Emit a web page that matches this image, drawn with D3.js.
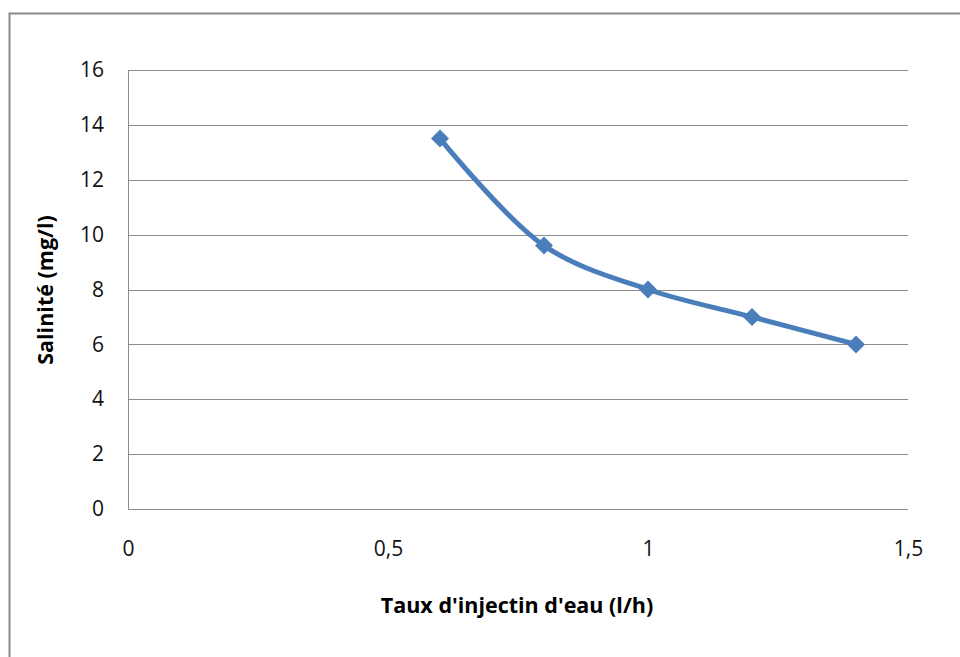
<!DOCTYPE html>
<html>
<head>
<meta charset="utf-8">
<script src="https://cdn.jsdelivr.net/npm/d3@7/dist/d3.min.js"></script>
<style>
  html, body { margin: 0; padding: 0; background: #fff; }
  svg { display: block; }
  .tick text { font-family: "Open Sans", "Noto Sans", sans-serif; font-size: 21px; fill: #111; }
  .title { font-family: "Open Sans", "Noto Sans", sans-serif; font-size: 21.5px; font-weight: bold; fill: #000; }
</style>
</head>
<body>
<svg id="chart" width="960" height="657"></svg>
<script>
// Injection rate (l/h) vs salinity (mg/l)
const injectionRate = [0.6, 0.8, 1.0, 1.2, 1.4];
const salinity = [13.5, 9.6, 8.0, 7.0, 6.0];
const xTicks = [0, 0.5, 1, 1.5];
const yTicks = [0, 2, 4, 6, 8, 10, 12, 14, 16];
const xTitle = "Taux d'injectin d'eau (l/h)";
const yTitle = "Salinité (mg/l)";

const svg = d3.select("#chart");
const fmt = d => String(d).replace(".", ",");

// frame around the chart
svg.append("rect")
  .attr("x", 9.5).attr("y", 13.5)
  .attr("width", 1000).attr("height", 700)
  .attr("fill", "none").attr("stroke", "#898989").attr("stroke-width", 2);

const x = d3.scaleLinear().domain([0, 1.5]).range([128, 908]);
const y = d3.scaleLinear().domain([0, 16]).range([509, 70]);

// horizontal gridlines
svg.append("g").selectAll("line").data(yTicks).join("line")
  .attr("x1", x(0)).attr("x2", x(1.5))
  .attr("y1", d => Math.round(y(d)) + 0.5).attr("y2", d => Math.round(y(d)) + 0.5)
  .attr("stroke", "#8c8c8c").attr("stroke-width", 1);

// vertical axis line
svg.append("line")
  .attr("x1", x(0) + 0.5).attr("x2", x(0) + 0.5)
  .attr("y1", y(16)).attr("y2", y(0))
  .attr("stroke", "#8c8c8c").attr("stroke-width", 1);

// y axis labels
const yAxis = d3.axisLeft(y).tickValues(yTicks).tickSize(0).tickPadding(24).tickFormat(fmt);
svg.append("g").attr("transform", `translate(${x(0)},0)`).call(yAxis)
  .call(g => g.select(".domain").remove());

// x axis labels
const xAxis = d3.axisBottom(x).tickValues(xTicks).tickSize(0).tickPadding(32).tickFormat(fmt);
svg.append("g").attr("transform", `translate(0,${y(0)})`).call(xAxis)
  .call(g => g.select(".domain").remove());

// axis titles
svg.append("text").attr("class", "title")
  .attr("x", 517).attr("y", 613).attr("text-anchor", "middle")
  .text(xTitle);
svg.append("text").attr("class", "title")
  .attr("transform", "translate(53,290) rotate(-90)")
  .attr("text-anchor", "middle")
  .text(yTitle);

// smoothed series line
const pts = injectionRate.map((v, i) => [v, salinity[i]]);
const line = d3.line()
  .x(d => x(d[0])).y(d => y(d[1]))
  .curve(d3.curveCatmullRom.alpha(0.5));
svg.append("path").datum(pts)
  .attr("d", line)
  .attr("fill", "none").attr("stroke", "#4a7ebb").attr("stroke-width", 5)
  .attr("stroke-linejoin", "round");

// diamond markers
svg.append("g").selectAll("path").data(pts).join("path")
  .attr("transform", d => `translate(${x(d[0])},${y(d[1])})`)
  .attr("d", "M0,-9L9,0L0,9L-9,0Z")
  .attr("fill", "#4a7ebb");
</script>
</body>
</html>
